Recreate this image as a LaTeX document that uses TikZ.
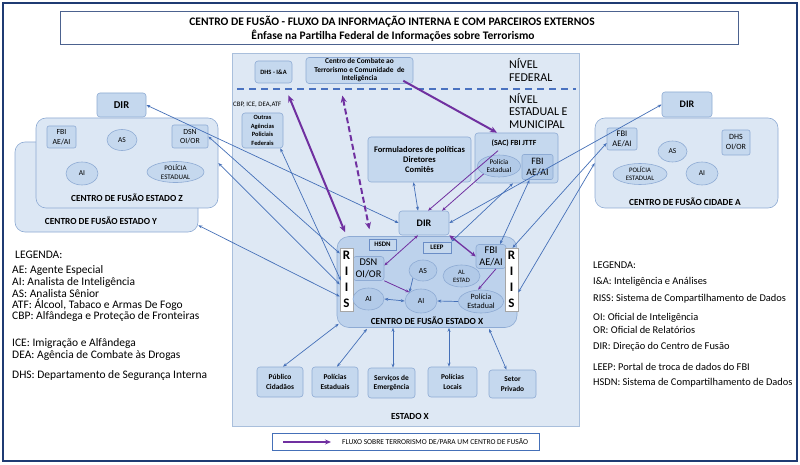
\documentclass[tikz,border=0pt]{standalone}
\usepackage{fontspec}
\setmainfont{Carlito}
\usetikzlibrary{arrows.meta,shapes.geometric}
\definecolor{frame}{HTML}{1F3B73}
\definecolor{panelfill}{HTML}{DEE8F4}
\definecolor{panelline}{HTML}{A9BFDC}
\definecolor{boxfill}{HTML}{C5D8EE}
\definecolor{boxline}{HTML}{8EABD4}
\definecolor{xfill}{HTML}{BDD2EC}
\definecolor{darkfill}{HTML}{B2CAE8}
\definecolor{clfill}{HTML}{DCE7F4}
\definecolor{lblue}{HTML}{4570B8}
\definecolor{purp}{HTML}{7030A0}
\definecolor{dashc}{HTML}{4A72C0}
\newcommand\myfs[2]{\fontsize{#1}{#2}\selectfont}
\begin{document}
\begin{tikzpicture}[x=1pt,y=-1pt,
  bx/.style={draw=boxline, fill=boxfill, rounded corners=3pt, inner sep=0pt, align=center, line width=0.6pt},
  dbx/.style={bx, fill=darkfill},
  el/.style={ellipse, draw=boxline, fill=boxfill, inner sep=0pt, align=center, line width=0.6pt},
  riis/.style={draw=gray!70, fill=white, inner sep=0pt, align=center, minimum width=13pt, minimum height=63pt, font=\myfs{13}{16}\bfseries},
  lab/.style={inner sep=0pt, align=center},
  lgL/.style={inner sep=0pt, anchor=west, font=\myfs{11.5}{13}},
  lgR/.style={inner sep=0pt, anchor=west, font=\myfs{10.4}{12}},
  bl/.style={draw=lblue, line width=0.7pt, {Stealth[length=4pt,width=3pt]}-{Stealth[length=4pt,width=3pt]}},
  blone/.style={draw=lblue, line width=0.7pt, -{Stealth[length=4pt,width=3pt]}},
  pthick/.style={draw=purp, line width=2pt, {Stealth[length=7pt,width=6pt]}-{Stealth[length=7pt,width=6pt]}},
  pmed/.style={draw=purp, line width=1.3pt, {Stealth[length=5pt,width=4.5pt]}-{Stealth[length=5pt,width=4.5pt]}},
  pthin/.style={draw=purp, line width=0.8pt, {Stealth[length=4pt,width=3pt]}-{Stealth[length=4pt,width=3pt]}},
  pthinone/.style={draw=purp, line width=0.8pt, -{Stealth[length=4pt,width=3pt]}}
]
\useasboundingbox (0,0) rectangle (800,465);
\fill[white] (0,0) rectangle (800,465);
\draw[frame, line width=1.6pt] (3,3) rectangle (797,461);

% title
\node[draw=frame!80, line width=1pt, fill=white, minimum width=678pt, minimum height=33pt, inner sep=0pt] (title) at (399,28.5) {};
\node[lab, font=\myfs{11.5}{13}\bfseries] (t1) at (392,22) {CENTRO DE FUSÃO - FLUXO DA INFORMAÇÃO INTERNA E COM PARCEIROS EXTERNOS};
\node[lab, font=\myfs{11.5}{13}\bfseries] (t2) at (393,36) {Ênfase na Partilha Federal de Informações sobre Terrorismo};

% central panel
\node[draw=panelline, fill=panelfill, line width=0.8pt, minimum width=347pt, minimum height=373pt, inner sep=0pt] (panel) at (405.5,239.5) {};
\draw[draw=dashc, line width=1.3pt, dash pattern=on 7pt off 5pt] (237,89) -- (576,89);
\node[lab, anchor=west, align=left, font=\myfs{12}{12.5}] (nf) at (509,70) {NÍVEL\\FEDERAL};
\node[lab, anchor=west, align=left, font=\myfs{12}{12.5}] (ne) at (509,111) {NÍVEL\\ESTADUAL E\\MUNICIPAL};
\node[lab, anchor=west, font=\myfs{6.8}{8}] (cbp) at (233,105) {CBP, ICE, DEA,ATF};

\node[bx, minimum width=37pt, minimum height=22pt, font=\myfs{6.5}{8}\bfseries] (dhs) at (273.5,72) {DHS - I\&A};
\node[bx, minimum width=107pt, minimum height=26pt, font=\myfs{7.4}{8.5}\bfseries] (combate) at (359.5,70.5) {Centro de Combate ao\\Terrorismo e Comunidade \ de\\Inteligência};
\node[bx, minimum width=41pt, minimum height=35pt, font=\myfs{6.4}{8.7}\bfseries] (outras) at (262.5,130.5) {Outras\\Agências\\Policiais\\Federais};
\node[bx, minimum width=103pt, minimum height=45pt, font=\myfs{8.5}{9.7}\bfseries] (form) at (419.5,159.5) {Formuladores de políticas\\Diretores\\Comitês};
\node[bx, minimum width=83pt, minimum height=50pt] (sac) at (516.5,158) {};
\node[lab, font=\myfs{7.8}{9}\bfseries] (sact) at (514,143) {(SAC) FBI JTTF};
\node[el, fill=darkfill, minimum width=43pt, minimum height=22pt, font=\myfs{7.2}{8.8}] (sacpol) at (499,166) {Polícia\\Estadual};
\node[dbx, rounded corners=2pt, minimum width=31pt, minimum height=25pt, font=\myfs{9.8}{11}] (sacfbi) at (537.5,167) {FBI\\AE/AI};

\node[bx, minimum width=50pt, minimum height=24pt, font=\myfs{10}{11}\bfseries] (dirx) at (424,223) {DIR};

% Centro de fusao estado X
\node[bx, fill=xfill, rounded corners=12pt, minimum width=180pt, minimum height=91pt] (xbox) at (427,282) {};
\node[lab, font=\myfs{9.3}{10}\bfseries] (xlab) at (427,321) {CENTRO DE FUSÃO ESTADO X};
\node[draw=lblue!80, fill=boxfill, inner sep=0pt, minimum width=27pt, minimum height=11pt, font=\myfs{6.8}{7}\bfseries] (hsdn) at (382.5,244.5) {HSDN};
\node[draw=lblue!80, line width=0.9pt, fill=boxfill, inner sep=0pt, minimum width=28pt, minimum height=11pt, font=\myfs{6.8}{7}\bfseries] (leep) at (437,247.5) {LEEP};
\node[dbx, minimum width=31pt, minimum height=24pt, font=\myfs{10.3}{11.5}] (dsnx) at (368.5,268.5) {DSN\\OI/OR};
\node[dbx, minimum width=30pt, minimum height=24pt, font=\myfs{10.3}{11.5}] (fbix) at (491,256.5) {FBI\\AE/AI};
\node[riis] (riisl) at (346.5,279.5) {R\\I\\I\\S};
\node[riis] (riisr) at (511.5,279.5) {R\\I\\I\\S};
\node[el, fill=darkfill, minimum width=28pt, minimum height=21pt, font=\myfs{7.8}{8}] (asx) at (423,270.5) {AS};
\node[el, fill=darkfill, minimum width=37pt, minimum height=22pt, font=\myfs{6.6}{8}] (alx) at (461.5,276) {AL\\ESTAD};
\node[el, fill=darkfill, minimum width=31pt, minimum height=22pt, font=\myfs{7.8}{8}] (ail) at (368.5,299) {AI};
\node[el, fill=darkfill, minimum width=32pt, minimum height=24pt, font=\myfs{7.8}{8}] (aic) at (421,301) {AI};
\node[el, fill=darkfill, minimum width=45pt, minimum height=23pt, font=\myfs{8}{9.2}] (polx) at (481,301.5) {Polícia\\Estadual};

% bottom boxes
\node[bx, minimum width=46pt, minimum height=30pt, font=\myfs{7.4}{9.5}\bfseries] (pub) at (280,382) {Público\\Cidadãos};
\node[bx, minimum width=46pt, minimum height=30pt, font=\myfs{7.4}{9.5}\bfseries] (pe) at (335,382) {Polícias\\Estaduais};
\node[bx, minimum width=47pt, minimum height=30pt, font=\myfs{7.4}{9.5}\bfseries] (serv) at (391.5,383) {Serviços de\\Emergência};
\node[bx, minimum width=49pt, minimum height=30pt, font=\myfs{7.4}{9.5}\bfseries] (pl) at (452.5,382) {Polícias\\Locais};
\node[bx, minimum width=47pt, minimum height=28pt, font=\myfs{7.4}{9.5}\bfseries] (setor) at (512.5,384) {Setor\\Privado};
\node[lab, font=\myfs{9.3}{10}\bfseries] (estx) at (410,416) {ESTADO X};

% flow legend
\node[draw=lblue, fill=white, line width=0.7pt, minimum width=267pt, minimum height=17pt, inner sep=0pt] (flow) at (405.5,441.5) {};
\coordinate (fa) at (283,442);
\coordinate (fb) at (331,442);
\draw[draw=purp, line width=2pt, -{Stealth[length=6pt,width=5pt]}] (fa) -- (fb);
\node[lab, anchor=west, font=\myfs{7.5}{8}] (flowt) at (342,441.5) {FLUXO SOBRE TERRORISMO DE/PARA UM CENTRO DE FUSÃO};

% left clusters
\node[draw=boxline, fill=clfill, rounded corners=10pt, line width=0.6pt, minimum width=183pt, minimum height=90pt, inner sep=0pt] (ybox) at (106.5,187) {};
\node[draw=boxline, fill=clfill, rounded corners=10pt, line width=0.6pt, minimum width=182pt, minimum height=90pt, inner sep=0pt] (zbox) at (127,163) {};
\node[lab, font=\myfs{9.3}{10}\bfseries] (zlab) at (127,198) {CENTRO DE FUSÃO ESTADO Z};
\node[lab, font=\myfs{9.3}{10}\bfseries] (ylab) at (101,221) {CENTRO DE FUSÃO ESTADO Y};
\node[bx, minimum width=49pt, minimum height=24pt, font=\myfs{10.5}{11}\bfseries] (dirz) at (121.5,105) {DIR};
\node[bx, rounded corners=2pt, minimum width=29pt, minimum height=22pt, font=\myfs{7.8}{9.5}] (fbiz) at (61.5,137) {FBI\\AE/AI};
\node[el, minimum width=30pt, minimum height=21pt, font=\myfs{7.5}{8}] (asz) at (122,140) {AS};
\node[bx, rounded corners=2pt, minimum width=36pt, minimum height=23pt, font=\myfs{7.8}{9.5}] (dsnz) at (190,136.5) {DSN\\OI/OR};
\node[el, minimum width=32pt, minimum height=23pt, font=\myfs{7.5}{8}] (aiz) at (82,173.5) {AI};
\node[el, minimum width=57pt, minimum height=21pt, font=\myfs{7}{8.5}] (polz) at (175.5,172) {POLÍCIA\\ESTADUAL};

% right cluster
\node[draw=boxline, fill=clfill, rounded corners=10pt, line width=0.6pt, minimum width=183pt, minimum height=90pt, inner sep=0pt] (abox) at (686.5,163) {};
\node[lab, font=\myfs{9.3}{10}\bfseries] (alab) at (685,202) {CENTRO DE FUSÃO CIDADE A};
\node[bx, minimum width=50pt, minimum height=25pt, font=\myfs{10}{11}\bfseries] (dira) at (687,104.5) {DIR};
\node[bx, rounded corners=2pt, minimum width=30pt, minimum height=22pt, font=\myfs{8.5}{10}] (fbia) at (622,139) {FBI\\AE/AI};
\node[bx, rounded corners=2pt, minimum width=28pt, minimum height=25pt, font=\myfs{8}{10}] (dhsa) at (736,142.5) {DHS\\OI/OR};
\node[el, minimum width=29pt, minimum height=21pt, font=\myfs{7.5}{8}] (asa) at (672.5,151.5) {AS};
\node[el, minimum width=54pt, minimum height=21pt, font=\myfs{6.8}{8.3}] (pola) at (640,174) {POLÍCIA\\ESTADUAL};
\node[el, minimum width=32pt, minimum height=23pt, font=\myfs{7.5}{8}] (aia) at (702,173.5) {AI};

% legends
\node[lgL] (lgl) at (15,255) {LEGENDA:};
\node[lgL] (l1) at (12,270) {AE: Agente Especial};
\node[lgL] (l2) at (12,282) {AI: Analista de Inteligência};
\node[lgL] (l3) at (12,293.5) {AS: Analista Sênior};
\node[lgL] (l4) at (12,305) {ATF: Álcool, Tabaco e Armas De Fogo};
\node[lgL] (l5) at (12,316.5) {CBP: Alfândega e Proteção de Fronteiras};
\node[lgL] (l6) at (12,343) {ICE: Imigração e Alfândega};
\node[lgL] (l7) at (12,355) {DEA: Agência de Combate às Drogas};
\node[lgL] (l8) at (12,375) {DHS: Departamento de Segurança Interna};

\node[lgR] (lgr) at (593,265) {LEGENDA:};
\node[lgR] (r1) at (593,282) {I\&A: Inteligência e Análises};
\node[lgR] (r2) at (593,299) {RISS: Sistema de Compartilhamento de Dados};
\node[lgR] (r3) at (593,318) {OI: Oficial de Inteligência};
\node[lgR] (r4) at (593,330) {OR: Oficial de Relatórios};
\node[lgR] (r5) at (593,347) {DIR: Direção do Centro de Fusão};
\node[lgR] (r6) at (593,367) {LEEP: Portal de troca de dados do FBI};
\node[lgR] (r7) at (593,383) {HSDN: Sistema de Compartilhamento de Dados};

% ---------- connectors ----------
% left side
\draw[bl] (dirz.east) -- (dirx.west);
\draw[bl] (dsnz.east) -- ([yshift=26pt]riisl.west);
\draw[bl] (zbox.east) -- ([yshift=-5pt]riisl.west);
\draw[bl] ([yshift=7pt]ybox.south east) -- ([yshift=-17pt]riisl.west);
\draw[bl] ([xshift=-3pt]outras.south east) -- ([xshift=1pt,yshift=-1pt]riisl.west);
% right side
\draw[bl] (dirx.east) -- (dira.west);
\draw[bl] ([xshift=1pt]riisr.north) -- ([yshift=-4pt]fbia.west);
\draw[bl] ([yshift=-13pt]riisr.east) -- (abox.west);
\draw[bl] ([xshift=9pt]fbix.north) -- ([xshift=-8pt]sacfbi.south);
\draw[bl] (leep.north east) -- ([xshift=-3.5pt]sac.south);
\draw[bl] ([xshift=-6pt]form.south) -- ([xshift=-6pt]dirx.north);
% inside X
\draw[blone] (asx.south west) -- (aic.north west);
\draw[bl] (ail.east) -- (aic.west);
\draw[blone] (polx.west) -- (aic.east);
% bottom
\draw[bl] ([xshift=2pt,yshift=4pt]xbox.south west) -- ([xshift=3pt]pub.north);
\draw[bl] ([xshift=-60pt,yshift=-1pt]xbox.south) -- ([xshift=2pt]pe.north);
\draw[bl] ([xshift=-34pt]xbox.south) -- ([xshift=1.5pt]serv.north);
\draw[bl] ([xshift=22pt]xbox.south) -- ([xshift=-3.5pt]pl.north);
\draw[bl] ([xshift=62pt,yshift=-1pt]xbox.south) -- ([xshift=-6pt]setor.north);
% purple
\draw[pthick, shorten >=13pt] ([xshift=-82pt,yshift=4pt]xbox.north) -- ([xshift=10pt]dhs.south);
\draw[pthick, dashed, dash pattern=on 6pt off 3pt, shorten <=12pt, shorten >=3pt] ([xshift=-19.5pt]combate.south) -- ([xshift=-57pt,yshift=4pt]xbox.north);
\draw[draw=purp, line width=2pt, -{Stealth[length=7pt,width=6pt]}] ([xshift=-10pt,yshift=3pt]combate.south east) -- ([xshift=-19.5pt]sac.north);
\draw[pthinone] ([xshift=-1pt,yshift=4pt]sacpol.north) -- ([xshift=4pt]dirx.north);
\draw[pthinone] (sacpol.south west) -- ([xshift=18pt]dirx.north);
\draw[pthin] ([xshift=-6pt]dirx.south) -- ([yshift=3pt]dsnx.east);
\draw[pmed] (dirx.south east) -- (fbix.west);
\draw[pthinone] (dsnx.south east) -- (aic.north west);
\draw[pthinone] ([xshift=5pt]fbix.south) -- ([xshift=-3pt]polx.north);
\end{tikzpicture}
\end{document}
